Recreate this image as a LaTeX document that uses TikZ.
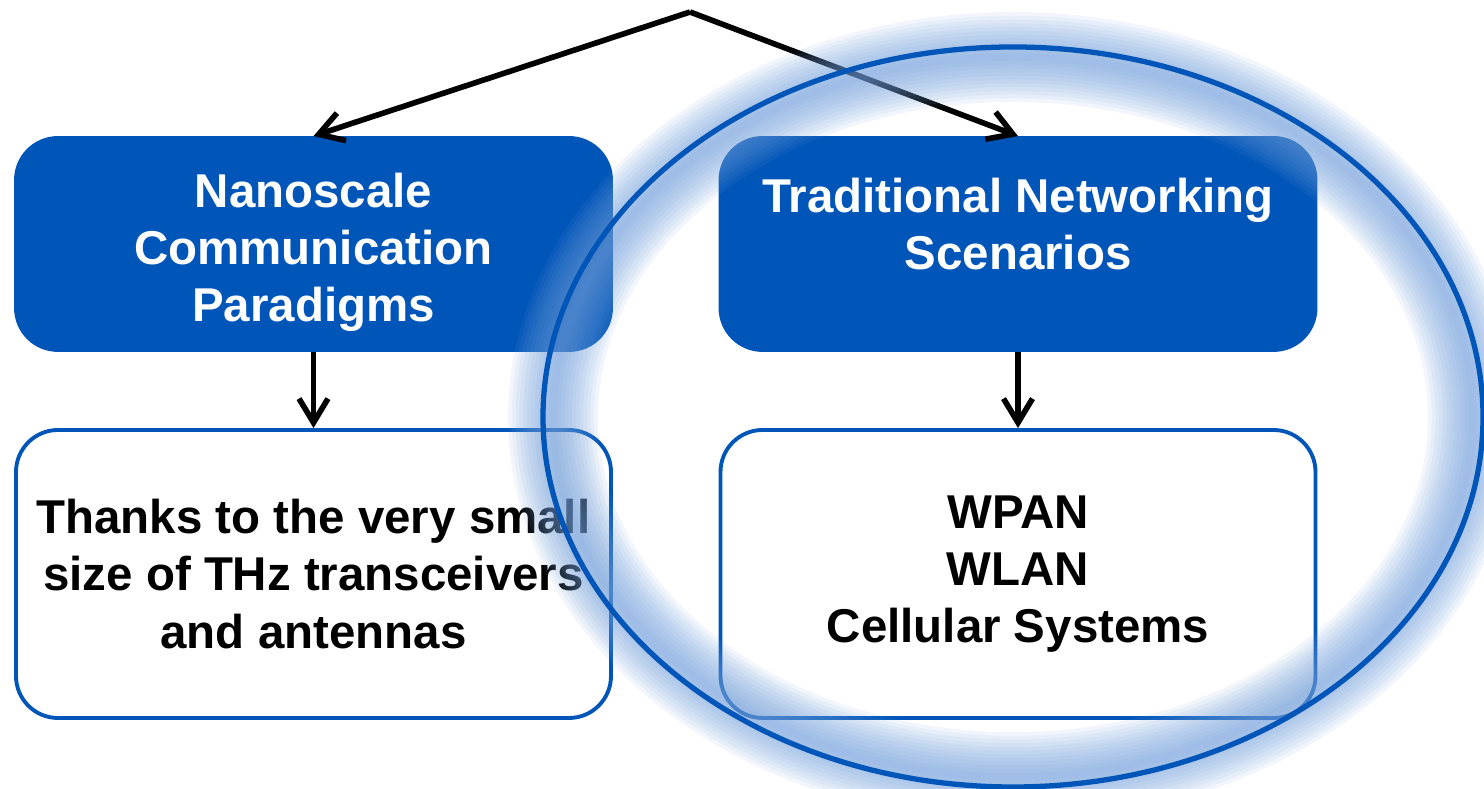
\documentclass[tikz,border=0pt]{standalone}
\usepackage{fontspec}
\setmainfont{Liberation Sans}
\usetikzlibrary{arrows.meta,positioning}
\definecolor{thzInk}{HTML}{000000}
\definecolor{thzBlue}{HTML}{0055B8}
\definecolor{thzGlow}{HTML}{719EDA}
\newcommand{\thzTop}{\rule{0pt}{0.51cm}}
\tikzset{
  thzHead/.style={fill=thzBlue,draw=thzBlue,text=white},
  thzBody/.style={fill=white,draw=thzBlue,text=thzInk},
  thzEdge/.style={draw=thzInk}
}
\begin{document}
\begin{tikzpicture}[
  box/.style={rounded corners=0.42cm, align=center, inner sep=0pt,
    minimum width=5.95cm, line width=1.1pt,
    font=\bfseries\fontsize{13.5}{16.3}\selectfont},
  headbox/.style={box, thzHead, minimum height=2.12cm},
  bodybox/.style={box, thzBody, minimum height=2.88cm},
  arrow/.style={-{Straight Barb[length=2.4mm,width=2.9mm]}, line width=1.6pt, thzEdge}
]
\useasboundingbox (0,0) rectangle (14.84,7.89);
\clip (0,0) rectangle (14.84,7.89);
\coordinate (apex) at (6.90,7.77);
\node[headbox] (nano) at (3.135,5.45)
  {\thzTop Nanoscale\\Communication\\Paradigms};
\node[headbox] (trad) at (10.18,5.45)
  {\thzTop Traditional Networking\\Scenarios\\\mbox{}};
\node[bodybox] (nanotxt) at (3.135,2.15)
  {Thanks to the very small\\size of THz transceivers\\and antennas};
\node[bodybox] (tradtxt) at (10.18,2.15)
  {WPAN\\WLAN\\Cellular Systems};
\draw[arrow] (apex) -- (nano.north);
\draw[arrow] (apex) -- (trad.north);
\draw[arrow] (nano.south) -- (nanotxt.north);
\draw[arrow] (trad.south) -- (tradtxt.north);
% glow round the highlight
\foreach \w in {0.9,0.825,...,0.07}
  \draw[thzGlow, opacity=0.09, line width=\w cm] (10.13,3.72) ellipse (4.60cm and 3.60cm);
\draw[thzBlue, line width=1.5pt] (10.13,3.72) ellipse (4.70cm and 3.70cm);
\end{tikzpicture}
\end{document}
